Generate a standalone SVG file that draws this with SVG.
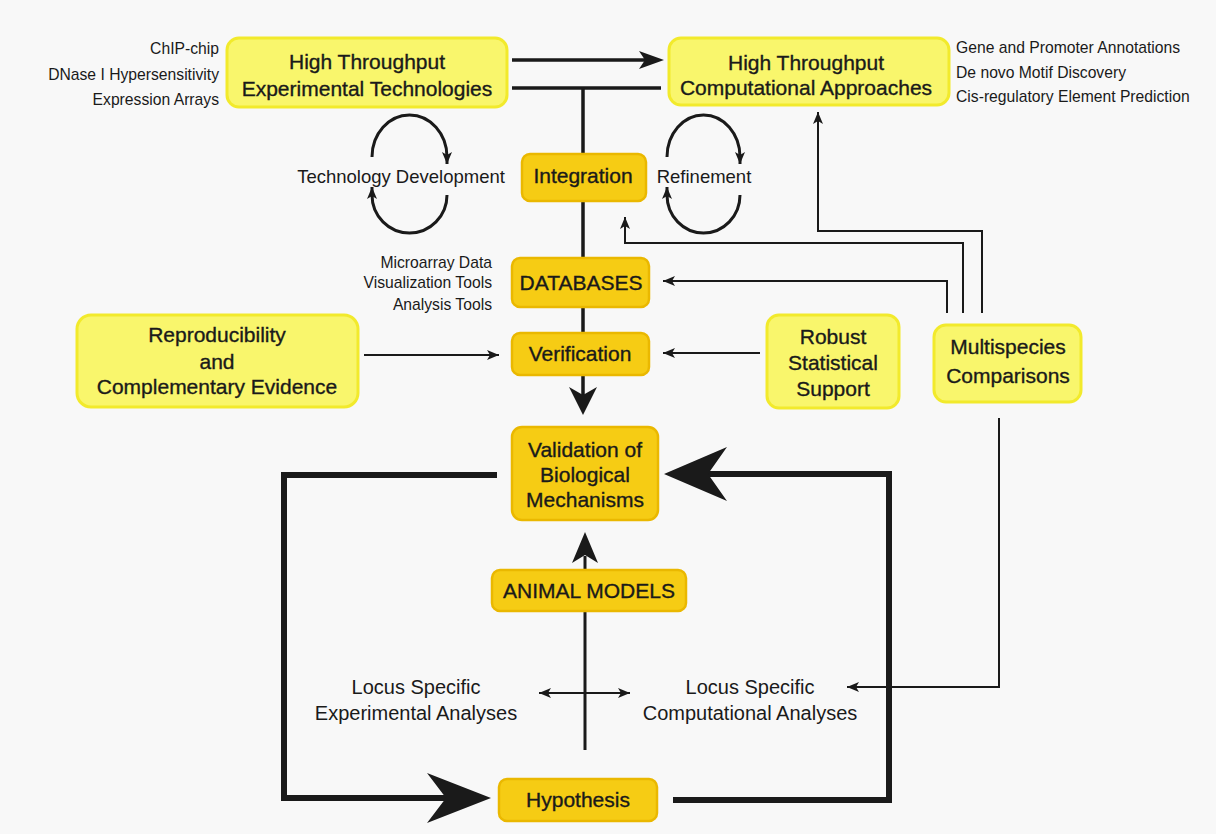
<svg xmlns="http://www.w3.org/2000/svg" width="1216" height="834" viewBox="0 0 1216 834">
<style>
.lt{fill:#f9f66c;stroke:#f2ea2c;stroke-width:3}
.dk{fill:#f6cc14;stroke:#eab800;stroke-width:2.5}
.bt{font-family:"Liberation Sans",Arial,sans-serif;font-size:21px;fill:#1a1a1a;stroke:#1a1a1a;stroke-width:0.35;text-anchor:middle}
.lb{font-family:"Liberation Sans",Arial,sans-serif;font-size:20px;fill:#1a1a1a;text-anchor:middle}
.sm{font-family:"Liberation Sans",Arial,sans-serif;font-size:15.7px;fill:#1a1a1a}
.c1{fill:none;stroke:#1a1a1a;stroke-width:2}
.c2{fill:none;stroke:#1a1a1a;stroke-width:3}
.c3{fill:none;stroke:#1a1a1a;stroke-width:3.5}
.c4{fill:none;stroke:#1a1a1a;stroke-width:6}
.ah{fill:#1a1a1a}
</style>
<defs>
<marker id="a" viewBox="0 0 12 10" refX="12" refY="5" markerWidth="12" markerHeight="10" markerUnits="userSpaceOnUse" orient="auto-start-reverse">
<path d="M0,0 L12,5 L0,10 L3,5 z" fill="#1a1a1a"/>
</marker>
</defs>
<rect width="1216" height="834" fill="#f8f8f8"/>
<g id="connectors">
<path class="c3" d="M512,60 H645"/>
<polygon class="ah" points="664,60 639,51 645,60 639,69"/>
<path class="c3" d="M512,88 H661 M583,88 V154 M583,201 V258 M583,307 V333 M583,375 V395"/>
<polygon class="ah" points="583,415 569,387 583,395 597,387"/>
<path class="c1" d="M982,313 V231 H818 V112" marker-end="url(#a)"/>
<path class="c1" d="M963,313 V243 H625 V217" marker-end="url(#a)"/>
<path class="c1" d="M947,313 V281 H663" marker-end="url(#a)"/>
<path class="c1" d="M364,355 H499" marker-end="url(#a)"/>
<path class="c1" d="M760,353 H663" marker-end="url(#a)"/>
<path class="c1" d="M999,418 V687 H847" marker-end="url(#a)"/>
<path class="c1" d="M539,693 H630" marker-start="url(#a)" marker-end="url(#a)"/>
<path class="c2" d="M585,750 V556"/>
<polygon class="ah" points="585,532 572,563 585,555 598,563"/>
<path class="c4" d="M497,475 H284 V798 H450"/>
<polygon class="ah" points="491,798 427,773 446,798 427,823"/>
<path class="c4" d="M673,800 H889 V474 H705"/>
<polygon class="ah" points="664,474 727,447 708,474 727,501"/>
<path class="c2" d="M372,157 A37.5,42 0 0 1 447,157 L447,164" marker-end="url(#a)"/>
<path class="c2" d="M447,195 A37.5,38 0 0 1 372,195 L372,187" marker-end="url(#a)"/>
<path class="c2" d="M667,157 A36.5,42 0 0 1 740,157 L740,164" marker-end="url(#a)"/>
<path class="c2" d="M740,195 A36.5,38 0 0 1 667,195 L667,187" marker-end="url(#a)"/>
</g>
<g id="htexp">
<rect class="lt" x="227" y="38" width="280" height="69" rx="12"/>
<text class="bt" x="367" y="69">High Throughput</text>
<text class="bt" x="367" y="96">Experimental Technologies</text>
</g>
<g id="htcomp">
<rect class="lt" x="669" y="38" width="280" height="67" rx="12"/>
<text class="bt" x="806" y="70">High Throughput</text>
<text class="bt" x="806" y="95">Computational Approaches</text>
</g>
<g id="integration">
<rect class="dk" x="522" y="154" width="124" height="47" rx="8"/>
<text class="bt" x="583" y="183">Integration</text>
</g>
<g id="databases">
<rect class="dk" x="512" y="258" width="137" height="49" rx="8"/>
<text class="bt" x="581" y="290">DATABASES</text>
</g>
<g id="verification">
<rect class="dk" x="512" y="333" width="137" height="42" rx="8"/>
<text class="bt" x="580" y="361">Verification</text>
</g>
<g id="validation">
<rect class="dk" x="512" y="427" width="146" height="93" rx="10"/>
<text class="bt" x="585" y="457">Validation of</text>
<text class="bt" x="585" y="482">Biological</text>
<text class="bt" x="585" y="507">Mechanisms</text>
</g>
<g id="animal">
<rect class="dk" x="492" y="570" width="194" height="41" rx="8"/>
<text class="bt" x="589" y="598">ANIMAL MODELS</text>
</g>
<g id="hypothesis">
<rect class="dk" x="499" y="779" width="158" height="42" rx="8"/>
<text class="bt" x="578" y="807">Hypothesis</text>
</g>
<g id="reproducibility">
<rect class="lt" x="77" y="315" width="281" height="92" rx="14"/>
<text class="bt" x="217" y="342">Reproducibility</text>
<text class="bt" x="217" y="369">and</text>
<text class="bt" x="217" y="394">Complementary Evidence</text>
</g>
<g id="robust">
<rect class="lt" x="767" y="315" width="132" height="93" rx="12"/>
<text class="bt" x="833" y="344">Robust</text>
<text class="bt" x="833" y="370">Statistical</text>
<text class="bt" x="833" y="396">Support</text>
</g>
<g id="multispecies">
<rect class="lt" x="934" y="325" width="147" height="77" rx="12"/>
<text class="bt" x="1008" y="354">Multispecies</text>
<text class="bt" x="1008" y="383">Comparisons</text>
</g>
<g id="labels">
<text class="sm" x="219" y="54" text-anchor="end">ChIP-chip</text>
<text class="sm" x="219" y="80" text-anchor="end">DNase I Hypersensitivity</text>
<text class="sm" x="219" y="105" text-anchor="end">Expression Arrays</text>
<text class="sm" x="956" y="53">Gene and Promoter Annotations</text>
<text class="sm" x="956" y="78">De novo Motif Discovery</text>
<text class="sm" x="956" y="102">Cis-regulatory Element Prediction</text>
<text class="sm" x="492" y="268" text-anchor="end">Microarray Data</text>
<text class="sm" x="492" y="288" text-anchor="end">Visualization Tools</text>
<text class="sm" x="492" y="310" text-anchor="end">Analysis Tools</text>
<text class="lb" x="401" y="183" style="font-size:18.5px">Technology Development</text>
<text class="lb" x="704" y="183" style="font-size:18.5px">Refinement</text>
<text class="lb" x="416" y="694">Locus Specific</text>
<text class="lb" x="416" y="720">Experimental Analyses</text>
<text class="lb" x="750" y="694">Locus Specific</text>
<text class="lb" x="750" y="720">Computational Analyses</text>
</g>
</svg>
